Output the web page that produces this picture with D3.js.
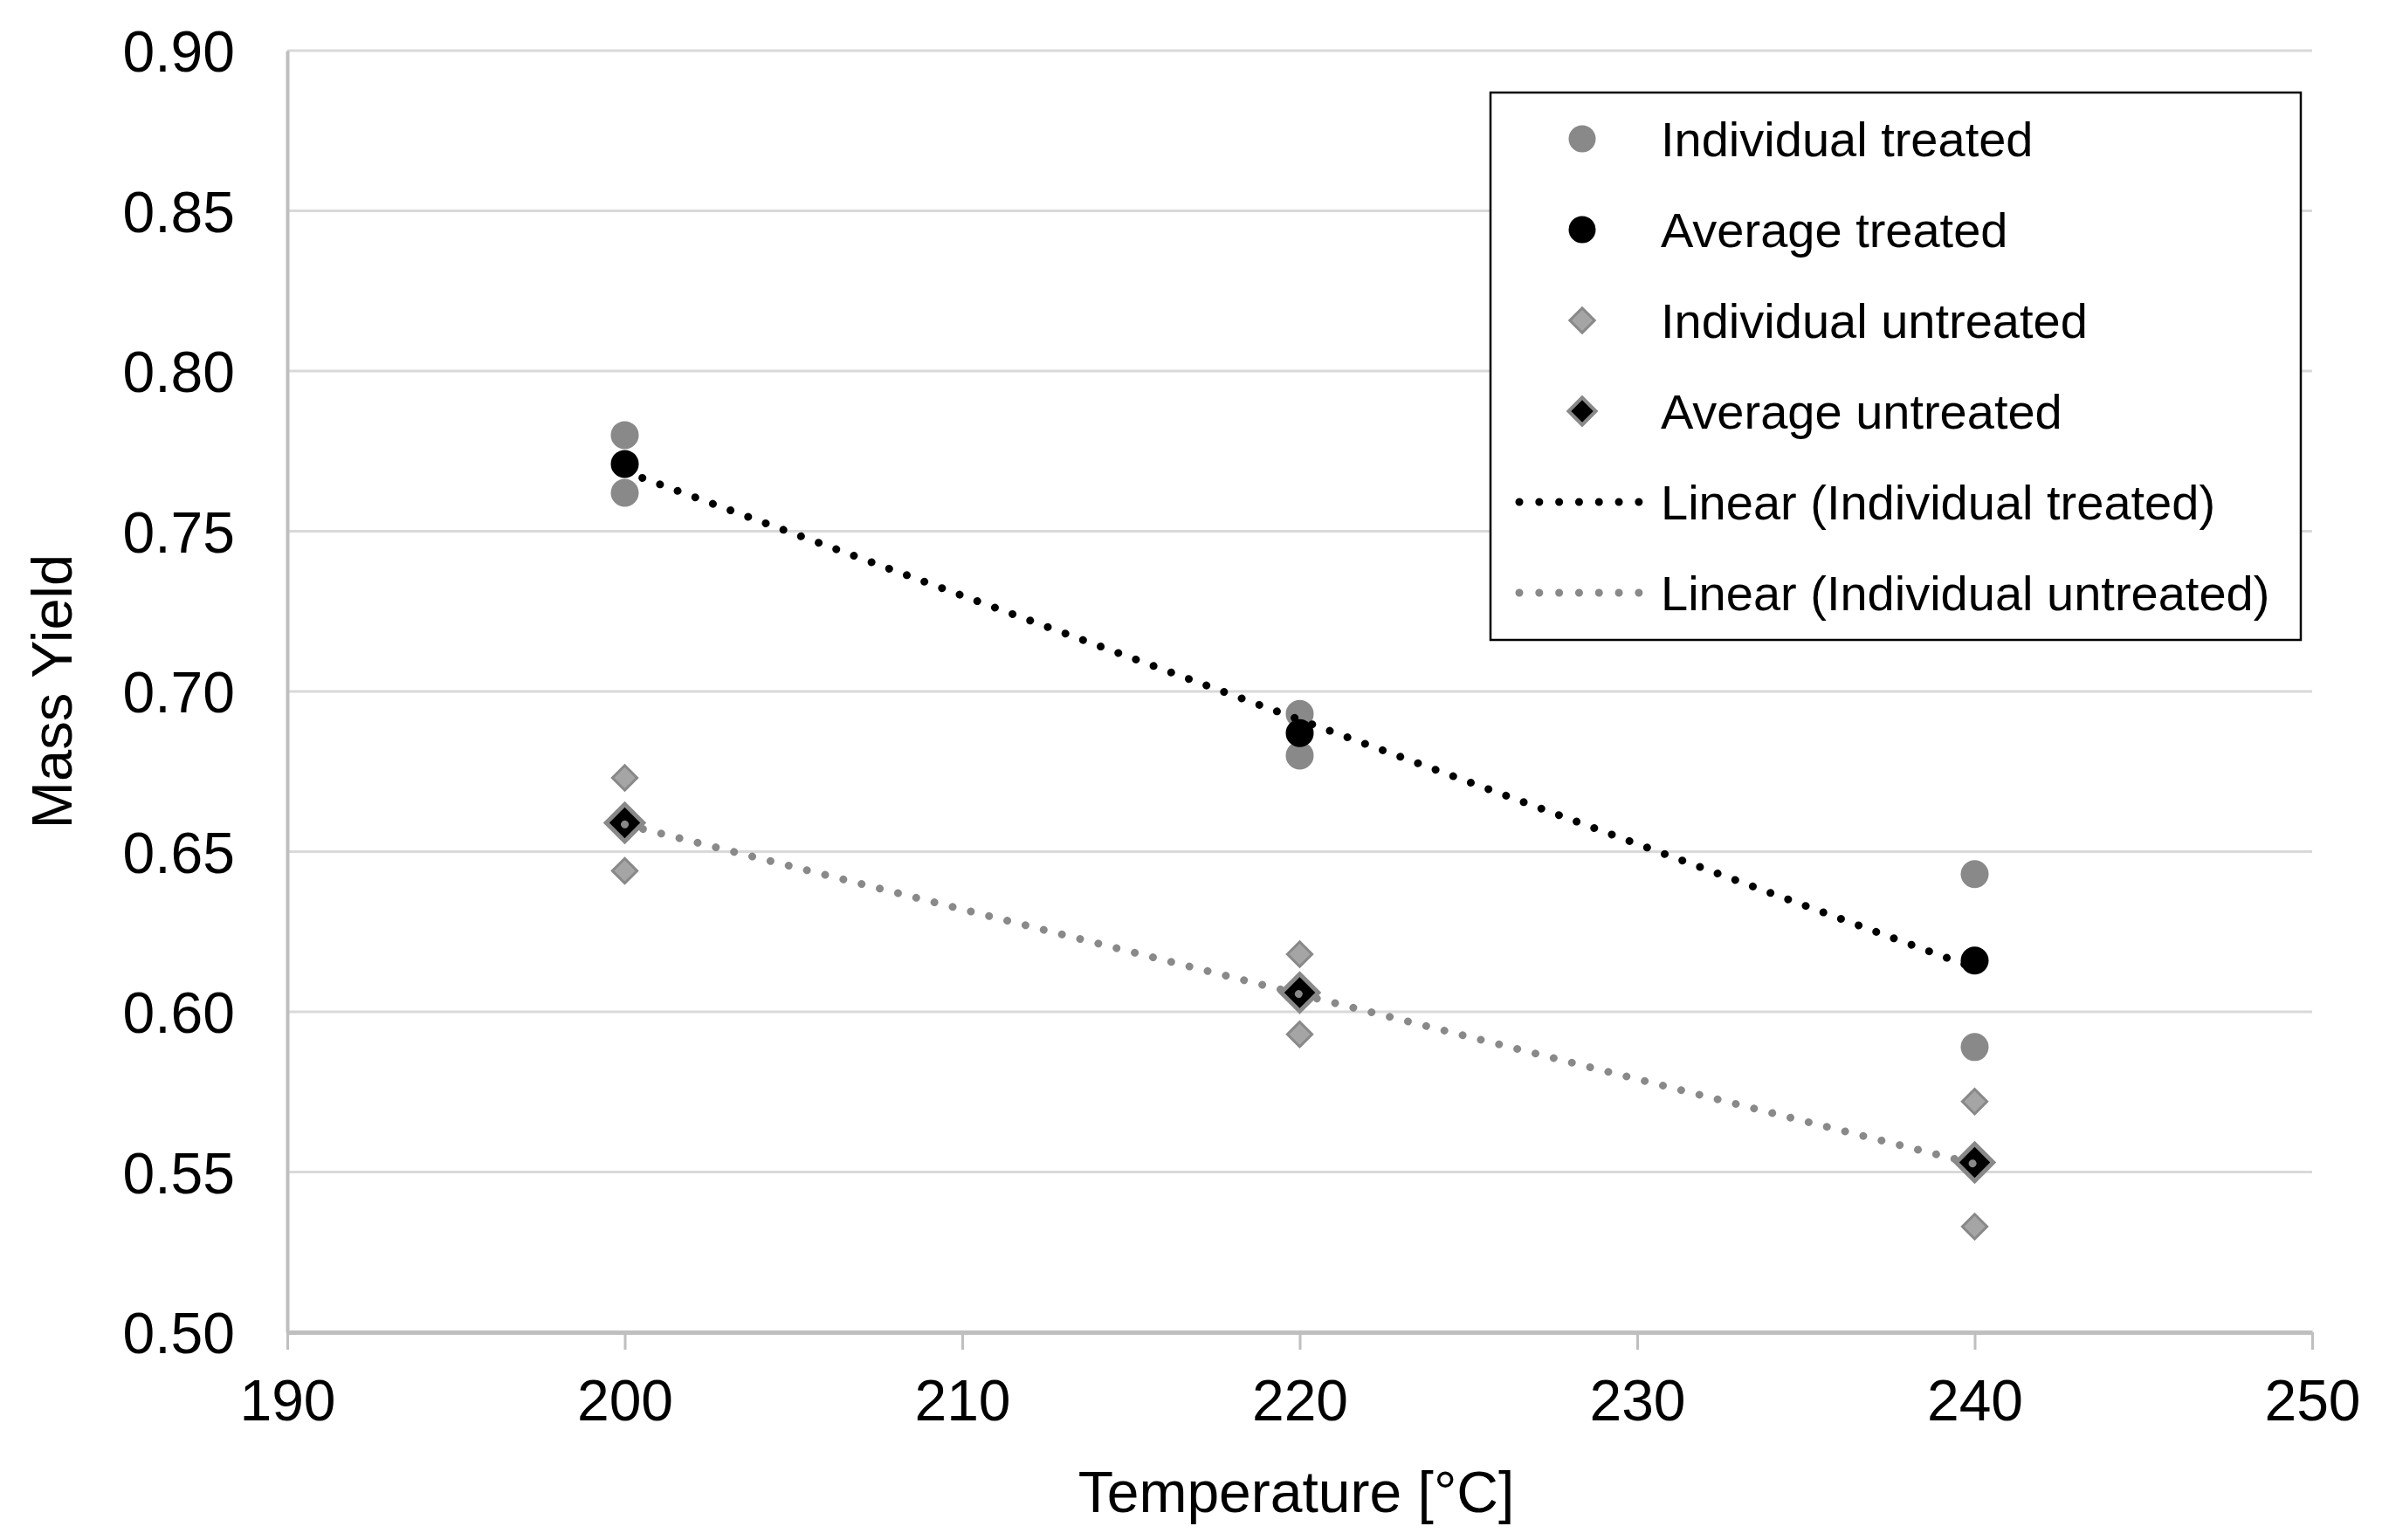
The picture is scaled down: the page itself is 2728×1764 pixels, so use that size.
<!DOCTYPE html>
<html>
<head>
<meta charset="utf-8">
<script src="https://cdn.jsdelivr.net/npm/d3@7.9.0/dist/d3.min.js"></script>
<style>
  body { margin: 0; background: #fff; }
  svg { display: block; font-family: 'Liberation Sans', Arial, sans-serif; }
</style>
</head>
<body>
<svg width="2728" height="1764"></svg>
<script>
// values
const temperatures = [200, 220, 240];
const treatedIndividual = [[0.780, 0.762], [0.693, 0.680], [0.643, 0.589]];
const treatedAverage = [0.771, 0.687, 0.616];
const untreatedIndividual = [[0.673, 0.644], [0.618, 0.593], [0.572, 0.533]];
const untreatedAverage = [0.659, 0.606, 0.553];

const xTicks = [190, 200, 210, 220, 230, 240, 250];
const yTicks = [0.50, 0.55, 0.60, 0.65, 0.70, 0.75, 0.80, 0.85, 0.90];
const legendLabels = [
  'Individual treated',
  'Average treated',
  'Individual untreated',
  'Average untreated',
  'Linear (Individual treated)',
  'Linear (Individual untreated)',
];

const grey = '#898989';
const axisGrey = '#bfbfbf';

let svg = d3.select('svg');
svg.append('rect').attr('width', 2728).attr('height', 1764).attr('fill', '#fff');

let x = d3.scaleLinear().domain([190, 250]).range([329, 2648]);
let y = d3.scaleLinear().domain([0.5, 0.9]).range([1526, 58]);

// gridlines
svg.append('g')
  .selectAll('line')
  .data(yTicks.filter((d) => d > 0.5))
  .join('line')
  .attr('x1', x.range()[0])
  .attr('x2', x.range()[1])
  .attr('y1', (d) => y(d))
  .attr('y2', (d) => y(d))
  .attr('stroke', '#d9d9d9')
  .attr('stroke-width', 3);

// y axis
let yAxis = svg.append('g')
  .attr('transform', `translate(${x.range()[0]},0)`)
  .call(d3.axisLeft(y).tickValues(yTicks).tickFormat(d3.format('.2f')).tickSize(0).tickPadding(60));
yAxis.select('.domain').attr('stroke', axisGrey).attr('stroke-width', 4);
yAxis.selectAll('text')
  .attr('font-size', 66)
  .attr('font-family', 'Liberation Sans, Arial, sans-serif')
  .attr('fill', '#000')
  .attr('dy', '0.36em');

// x axis
let xAxis = svg.append('g')
  .attr('transform', `translate(0,${y.range()[0]})`)
  .call(d3.axisBottom(x).tickValues(xTicks).tickSizeInner(20).tickSizeOuter(0).tickPadding(34));
xAxis.select('.domain').attr('stroke', axisGrey).attr('stroke-width', 5);
xAxis.selectAll('.tick line').attr('stroke', axisGrey).attr('stroke-width', 3);
xAxis.selectAll('text')
  .attr('font-size', 66)
  .attr('font-family', 'Liberation Sans, Arial, sans-serif')
  .attr('fill', '#000');

// axis titles
svg.append('text')
  .attr('x', (x.range()[0] + x.range()[1]) / 2 - 4)
  .attr('y', 1732)
  .attr('text-anchor', 'middle')
  .attr('font-size', 66)
  .text('Temperature [°C]');

svg.append('text')
  .attr('transform', `translate(82,${(y.range()[0] + y.range()[1]) / 2}) rotate(-90)`)
  .attr('text-anchor', 'middle')
  .attr('font-size', 65)
  .text('Mass Yield');

let diamond = (side) => d3.symbol().type(d3.symbolSquare).size(side * side)();

function flatten(groups) {
  let out = [];
  groups.forEach((vals, i) => vals.forEach((v) => out.push({ t: temperatures[i], v: v })));
  return out;
}

let treatedPts = flatten(treatedIndividual);
let untreatedPts = flatten(untreatedIndividual);

// markers
svg.append('g')
  .selectAll('circle')
  .data(treatedPts)
  .join('circle')
  .attr('cx', (d) => x(d.t))
  .attr('cy', (d) => y(d.v))
  .attr('r', 16)
  .attr('fill', grey);

svg.append('g')
  .selectAll('circle')
  .data(treatedAverage)
  .join('circle')
  .attr('cx', (d, i) => x(temperatures[i]))
  .attr('cy', (d) => y(d))
  .attr('r', 16)
  .attr('fill', '#000');

svg.append('g')
  .selectAll('path')
  .data(untreatedPts)
  .join('path')
  .attr('d', diamond(20))
  .attr('transform', (d) => `translate(${x(d.t)},${y(d.v)}) rotate(45)`)
  .attr('fill', '#a5a5a5')
  .attr('stroke', grey)
  .attr('stroke-width', 3);

svg.append('g')
  .selectAll('path')
  .data(untreatedAverage)
  .join('path')
  .attr('d', diamond(30))
  .attr('transform', (d, i) => `translate(${x(temperatures[i])},${y(d)}) rotate(45)`)
  .attr('fill', '#000')
  .attr('stroke', grey)
  .attr('stroke-width', 5);

// linear trendlines (least squares on the individual points)
function fit(pts) {
  let mx = d3.mean(pts, (d) => d.t);
  let my = d3.mean(pts, (d) => d.v);
  let slope = d3.sum(pts, (d) => (d.t - mx) * (d.v - my)) / d3.sum(pts, (d) => (d.t - mx) ** 2);
  let t0 = d3.min(pts, (d) => d.t);
  let t1 = d3.max(pts, (d) => d.t);
  return [
    { t: t0, v: my + slope * (t0 - mx) },
    { t: t1, v: my + slope * (t1 - mx) },
  ];
}

let line = d3.line().x((d) => x(d.t)).y((d) => y(d.v));

[[treatedPts, '#000'], [untreatedPts, grey]].forEach(([pts, color]) => {
  svg.append('path')
    .attr('d', line(fit(pts)))
    .attr('fill', 'none')
    .attr('stroke', color)
    .attr('stroke-width', 9)
    .attr('stroke-linecap', 'round')
    .attr('stroke-dasharray', '0.01 21.5');
});

// legend
let legend = svg.append('g');
legend.append('rect')
  .attr('x', 1707)
  .attr('y', 106)
  .attr('width', 928)
  .attr('height', 627)
  .attr('fill', '#fff')
  .attr('stroke', '#000')
  .attr('stroke-width', 2.5);

legendLabels.forEach((label, i) => {
  let cy = 159 + i * 104;
  let row = legend.append('g');
  if (i === 0 || i === 1) {
    row.append('circle')
      .attr('cx', 1812).attr('cy', cy).attr('r', 15.5)
      .attr('fill', i === 0 ? grey : '#000');
  } else if (i === 2) {
    row.append('path')
      .attr('d', diamond(20))
      .attr('transform', `translate(1812,${cy}) rotate(45)`)
      .attr('fill', '#a5a5a5').attr('stroke', grey).attr('stroke-width', 3);
  } else if (i === 3) {
    row.append('path')
      .attr('d', diamond(22))
      .attr('transform', `translate(1812,${cy}) rotate(45)`)
      .attr('fill', '#000').attr('stroke', grey).attr('stroke-width', 4);
  } else {
    row.append('line')
      .attr('x1', 1740).attr('x2', 1877)
      .attr('y1', cy).attr('y2', cy)
      .attr('stroke', i === 4 ? '#000' : grey)
      .attr('stroke-width', 9)
      .attr('stroke-linecap', 'round')
      .attr('stroke-dasharray', '0.01 22.8');
  }
  row.append('text')
    .attr('x', 1902)
    .attr('y', cy + 20)
    .attr('font-size', 56)
    .attr('fill', '#000')
    .text(label);
});
</script>
</body>
</html>
